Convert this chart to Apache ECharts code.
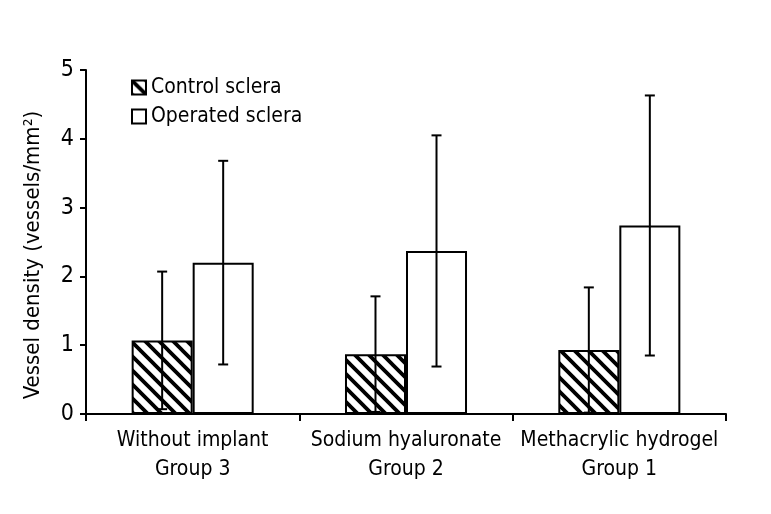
<!DOCTYPE html>
<html>
<head>
<meta charset="utf-8">
<script src="https://cdn.jsdelivr.net/npm/echarts@6/dist/echarts.min.js"></script>
<style>html,body{margin:0;padding:0;background:#fff}#c{width:771px;height:514px}</style>
</head>
<body>
<div id="c"></div>
<script>
const categories = ['Without implant\nGroup 3', 'Sodium hyaluronate\nGroup 2', 'Methacrylic hydrogel\nGroup 1'];
const seriesNames = ['Control sclera', 'Operated sclera'];
const controlMean = [1.07, 0.87, 0.93];
const controlSD = [1.00, 0.84, 0.91];
const operatedMean = [2.20, 2.37, 2.74];
const operatedSD = [1.48, 1.68, 1.89];
const yTicks = [0, 1, 2, 3, 4, 5];

const FONT = "'Liberation Sans Narrow', 'DejaVu Sans Condensed', 'Roboto Condensed', sans-serif";

function hatch() {
  const s = 14;
  const cv = document.createElement('canvas');
  cv.width = s; cv.height = s;
  const g = cv.getContext('2d');
  g.fillStyle = '#fff'; g.fillRect(0, 0, s, s);
  g.strokeStyle = '#000'; g.lineWidth = 3.8; g.lineCap = 'square';
  [-s, 0, s].forEach(k => {
    g.beginPath(); g.moveTo(-2, k - 2); g.lineTo(s + 2, k + s + 2); g.stroke();
  });
  return cv;
}

const BAR_FRAC = 0.286;
function errSeries(means, sds, side, name) {
  const data = means.map((m, i) => [i, m - sds[i], m + sds[i]]);
  return {
    type: 'custom', name: name + ' err', silent: true, z: 10,
    renderItem: function (params, api) {
      const band = api.size([1, 0])[0];
      const off = side * band * BAR_FRAC / 2;
      const lo = api.coord([api.value(0), api.value(1)]);
      const hi = api.coord([api.value(0), api.value(2)]);
      const x = lo[0] + off;
      const cap = 5;
      const st = { stroke: '#000', lineWidth: 2 };
      return { type: 'group', children: [
        { type: 'line', shape: { x1: x, y1: lo[1], x2: x, y2: hi[1] }, style: st },
        { type: 'line', shape: { x1: x - cap, y1: hi[1], x2: x + cap, y2: hi[1] }, style: st },
        { type: 'line', shape: { x1: x - cap, y1: lo[1], x2: x + cap, y2: lo[1] }, style: st }
      ]};
    },
    data: data
  };
}

const chart = echarts.init(document.getElementById('c'), null, { renderer: 'canvas' });
chart.setOption({
  animation: false,
  backgroundColor: '#fff',
  grid: { left: 86, right: 45, top: 70, bottom: 100, containLabel: false },
  legend: {
    data: seriesNames, orient: 'vertical', left: 131, top: 77, padding: 0,
    itemWidth: 14, itemHeight: 14, itemGap: 8, icon: 'rect',
    textStyle: { fontFamily: FONT, fontSize: 21, color: '#000', padding: [0, 0, 0, 0] }
  },
  xAxis: {
    type: 'category', data: categories, boundaryGap: true,
    axisLine: { lineStyle: { color: '#000', width: 2 } },
    axisTick: { show: true, interval: 0, length: 7, lineStyle: { color: '#000', width: 2 } },
    axisLabel: { interval: 0, fontFamily: FONT, fontSize: 21, color: '#000', lineHeight: 29, margin: 12 }
  },
  yAxis: {
    type: 'value', min: yTicks[0], max: yTicks[yTicks.length - 1], interval: 1,
    name: 'Vessel density (vessels/mm²)', nameLocation: 'middle', nameGap: 42,
    nameTextStyle: { fontFamily: FONT, fontSize: 22, color: '#000', padding: [0, 26, 0, 0] },
    splitLine: { show: false },
    axisLine: { show: true, lineStyle: { color: '#000', width: 2 } },
    axisTick: { show: true, length: 6, lineStyle: { color: '#000', width: 2 } },
    axisLabel: { fontFamily: FONT, fontSize: 23, color: '#000', margin: 12 }
  },
  series: [
    { name: seriesNames[0], type: 'bar', data: controlMean, barWidth: (BAR_FRAC * 100) + '%', barGap: '0%',
      itemStyle: { color: { image: hatch(), repeat: 'repeat' }, borderColor: '#000', borderWidth: 2 } },
    { name: seriesNames[1], type: 'bar', data: operatedMean, barWidth: (BAR_FRAC * 100) + '%', barGap: '0%',
      itemStyle: { color: '#fff', borderColor: '#000', borderWidth: 2 } },
    errSeries(controlMean, controlSD, -1, seriesNames[0]),
    errSeries(operatedMean, operatedSD, 1, seriesNames[1])
  ]
});
</script>
</body>
</html>
